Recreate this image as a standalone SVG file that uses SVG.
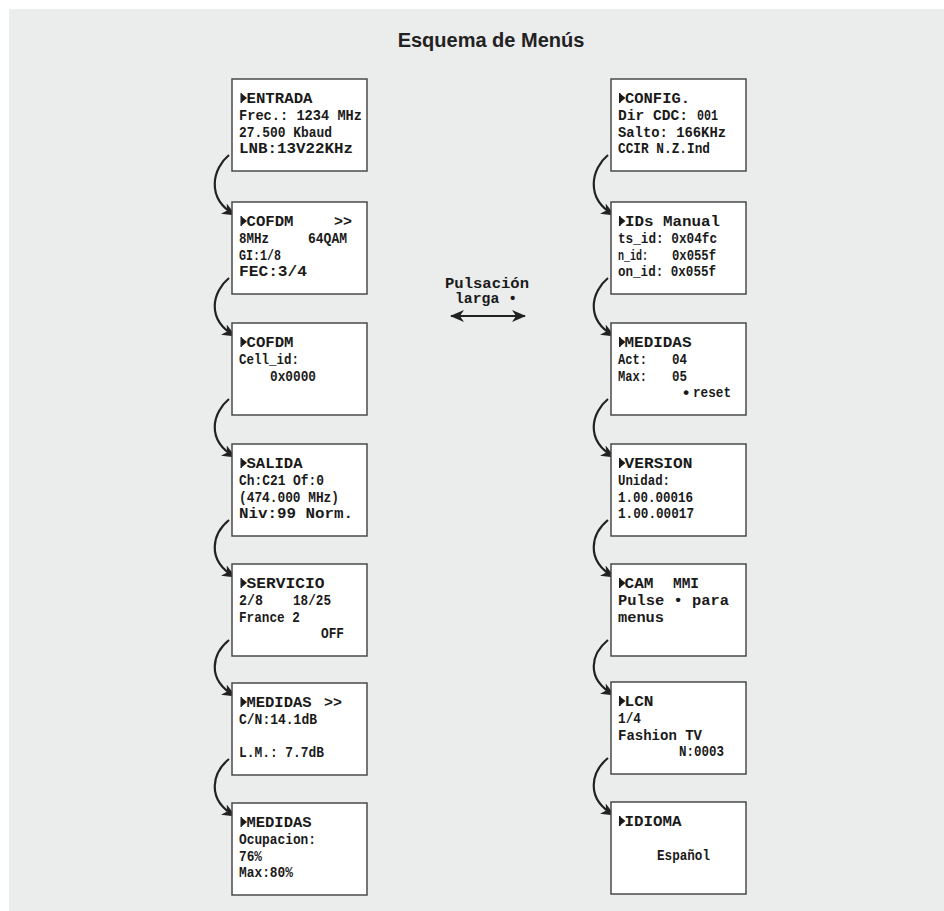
<svg xmlns="http://www.w3.org/2000/svg" xmlns:xlink="http://www.w3.org/1999/xlink" width="944" height="911" viewBox="0 0 944 911">
<style>
.bg{fill:#ebecec}
.box{fill:#ffffff;stroke:#4a4a4a;stroke-width:1.5}
.t{font-family:"Liberation Mono","DejaVu Sans Mono",monospace;font-weight:bold;font-size:14px;fill:#1a1a1a}
.title{font-family:"Liberation Sans",Arial,sans-serif;font-weight:bold;font-size:20px;fill:#222222}
.con{fill:none;stroke:#222222;stroke-width:2.2}
.tri{fill:#1a1a1a}
</style>
<defs>
<marker id="ah" viewBox="0 0 14 12" refX="13" refY="6" markerWidth="14" markerHeight="12" markerUnits="userSpaceOnUse" orient="auto-start-reverse">
<path d="M0,0 L14,6 L0,12 L4,6 Z" fill="#222222"/>
</marker>
<g id="tri"><rect x="0" y="0" width="1.4" height="10"/><polygon points="1,0.6 6.5,5 1,9.4"/></g>
</defs>
<rect class="bg" x="9" y="9" width="935" height="902"/>
<text class="title" x="491" y="47" text-anchor="middle">Esquema de Menús</text>

<g id="connectors">
<path class="con" marker-end="url(#ah)" d="M229,155 C213,168 205,198 235,215"/>
<path class="con" marker-end="url(#ah)" d="M229,278 C213,291 205,319 235,336"/>
<path class="con" marker-end="url(#ah)" d="M229,399 C213,412 205,440 235,457"/>
<path class="con" marker-end="url(#ah)" d="M229,520 C213,533 205,560 235,577"/>
<path class="con" marker-end="url(#ah)" d="M229,640 C213,653 205,679 235,696"/>
<path class="con" marker-end="url(#ah)" d="M229,759 C213,772 205,799 235,816"/>
<path class="con" marker-end="url(#ah)" d="M608,155 C592,168 584,198 614,215"/>
<path class="con" marker-end="url(#ah)" d="M608,278 C592,291 584,319 614,336"/>
<path class="con" marker-end="url(#ah)" d="M608,399 C592,412 584,440 614,457"/>
<path class="con" marker-end="url(#ah)" d="M608,520 C592,533 584,560 614,577"/>
<path class="con" marker-end="url(#ah)" d="M608,640 C592,653 584,678 614,695"/>
<path class="con" marker-end="url(#ah)" d="M608,758 C592,771 584,798 614,815"/>
<path class="con" marker-start="url(#ah)" marker-end="url(#ah)" d="M451,316 L525,316"/>
</g>

<g id="pulsacion">
<text class="t" x="487" y="288" text-anchor="middle" textLength="84" lengthAdjust="spacingAndGlyphs">Pulsación</text>
<text class="t" x="486" y="303" text-anchor="middle" textLength="62" lengthAdjust="spacingAndGlyphs">larga •</text>
</g>

<g id="entrada">
<rect class="box" x="232" y="79" width="135" height="92"/>
<use xlink:href="#tri" class="tri" x="240.5" y="93"/>
<text class="t" x="246.5" y="103" textLength="66" lengthAdjust="spacingAndGlyphs">ENTRADA</text>
<text class="t" x="239" y="120" textLength="123" lengthAdjust="spacingAndGlyphs">Frec.: 1234 MHz</text>
<text class="t" x="239" y="136.5" textLength="93" lengthAdjust="spacingAndGlyphs">27.500 Kbaud</text>
<text class="t" x="239" y="153" textLength="114" lengthAdjust="spacingAndGlyphs">LNB:13V22KHz</text>
</g>

<g id="cofdm1">
<rect class="box" x="232" y="202" width="135" height="92"/>
<use xlink:href="#tri" class="tri" x="240.5" y="216"/>
<text class="t" x="246.5" y="226" textLength="47" lengthAdjust="spacingAndGlyphs">COFDM</text>
<text class="t" x="334" y="226" textLength="18" lengthAdjust="spacingAndGlyphs">&gt;&gt;</text>
<text class="t" x="239" y="243" textLength="30" lengthAdjust="spacingAndGlyphs">8MHz</text>
<text class="t" x="308" y="243" textLength="39" lengthAdjust="spacingAndGlyphs">64QAM</text>
<text class="t" x="239" y="259.5" textLength="42" lengthAdjust="spacingAndGlyphs">GI:1/8</text>
<text class="t" x="239" y="276" textLength="68" lengthAdjust="spacingAndGlyphs">FEC:3/4</text>
</g>

<g id="cofdm2">
<rect class="box" x="232" y="323" width="135" height="92"/>
<use xlink:href="#tri" class="tri" x="240.5" y="337"/>
<text class="t" x="246.5" y="347" textLength="47" lengthAdjust="spacingAndGlyphs">COFDM</text>
<text class="t" x="239" y="364" textLength="60" lengthAdjust="spacingAndGlyphs">Cell_id:</text>
<text class="t" x="270" y="380.5" textLength="46" lengthAdjust="spacingAndGlyphs">0x0000</text>
</g>

<g id="salida">
<rect class="box" x="232" y="444" width="135" height="92"/>
<use xlink:href="#tri" class="tri" x="240.5" y="458"/>
<text class="t" x="246.5" y="468" textLength="56" lengthAdjust="spacingAndGlyphs">SALIDA</text>
<text class="t" x="239" y="485" textLength="85" lengthAdjust="spacingAndGlyphs">Ch:C21 Of:0</text>
<text class="t" x="239" y="501.5" textLength="100" lengthAdjust="spacingAndGlyphs">(474.000 MHz)</text>
<text class="t" x="239" y="518" textLength="114" lengthAdjust="spacingAndGlyphs">Niv:99 Norm.</text>
</g>

<g id="servicio">
<rect class="box" x="232" y="564" width="135" height="92"/>
<use xlink:href="#tri" class="tri" x="240.5" y="578"/>
<text class="t" x="246.5" y="588" textLength="78" lengthAdjust="spacingAndGlyphs">SERVICIO</text>
<text class="t" x="239" y="605" textLength="24" lengthAdjust="spacingAndGlyphs">2/8</text>
<text class="t" x="293" y="605" textLength="38" lengthAdjust="spacingAndGlyphs">18/25</text>
<text class="t" x="239" y="621.5" textLength="61" lengthAdjust="spacingAndGlyphs">France 2</text>
<text class="t" x="321" y="638" textLength="23" lengthAdjust="spacingAndGlyphs">OFF</text>
</g>

<g id="medidas1">
<rect class="box" x="232" y="683" width="135" height="92"/>
<use xlink:href="#tri" class="tri" x="240.5" y="697"/>
<text class="t" x="246.5" y="707" textLength="65" lengthAdjust="spacingAndGlyphs">MEDIDAS</text>
<text class="t" x="324" y="707" textLength="18" lengthAdjust="spacingAndGlyphs">&gt;&gt;</text>
<text class="t" x="239" y="724" textLength="78" lengthAdjust="spacingAndGlyphs">C/N:14.1dB</text>
<text class="t" x="239" y="757" textLength="85" lengthAdjust="spacingAndGlyphs">L.M.: 7.7dB</text>
</g>

<g id="medidas2">
<rect class="box" x="232" y="803" width="135" height="92"/>
<use xlink:href="#tri" class="tri" x="240.5" y="817"/>
<text class="t" x="246.5" y="827" textLength="65" lengthAdjust="spacingAndGlyphs">MEDIDAS</text>
<text class="t" x="239" y="844" textLength="77" lengthAdjust="spacingAndGlyphs">Ocupacion:</text>
<text class="t" x="239" y="860.5" textLength="23" lengthAdjust="spacingAndGlyphs">76%</text>
<text class="t" x="239" y="877" textLength="54" lengthAdjust="spacingAndGlyphs">Max:80%</text>
</g>

<g id="config">
<rect class="box" x="611" y="79" width="135" height="92"/>
<use xlink:href="#tri" class="tri" x="619" y="93"/>
<text class="t" x="625" y="103" textLength="65" lengthAdjust="spacingAndGlyphs">CONFIG.</text>
<text class="t" x="618" y="120" textLength="70" lengthAdjust="spacingAndGlyphs">Dir CDC:</text>
<text class="t" x="697" y="120" textLength="21" lengthAdjust="spacingAndGlyphs">001</text>
<text class="t" x="618" y="136.5" textLength="108" lengthAdjust="spacingAndGlyphs">Salto: 166KHz</text>
<text class="t" x="618" y="153" textLength="92" lengthAdjust="spacingAndGlyphs">CCIR N.Z.Ind</text>
</g>

<g id="ids">
<rect class="box" x="611" y="202" width="135" height="92"/>
<use xlink:href="#tri" class="tri" x="619" y="216"/>
<text class="t" x="625" y="226" textLength="95" lengthAdjust="spacingAndGlyphs">IDs Manual</text>
<text class="t" x="618" y="243" textLength="99" lengthAdjust="spacingAndGlyphs">ts_id: 0x04fc</text>
<text class="t" x="618" y="259.5" textLength="30" lengthAdjust="spacingAndGlyphs">n_id:</text>
<text class="t" x="672" y="259.5" textLength="44" lengthAdjust="spacingAndGlyphs">0x055f</text>
<text class="t" x="618" y="276" textLength="98" lengthAdjust="spacingAndGlyphs">on_id: 0x055f</text>
</g>

<g id="medidas3">
<rect class="box" x="611" y="323" width="135" height="92"/>
<use xlink:href="#tri" class="tri" x="619" y="337"/>
<text class="t" x="624.5" y="347" textLength="67" lengthAdjust="spacingAndGlyphs">MEDIDAS</text>
<text class="t" x="618" y="364" textLength="29" lengthAdjust="spacingAndGlyphs">Act:</text>
<text class="t" x="672" y="364" textLength="15" lengthAdjust="spacingAndGlyphs">04</text>
<text class="t" x="618" y="380.5" textLength="29" lengthAdjust="spacingAndGlyphs">Max:</text>
<text class="t" x="672" y="380.5" textLength="15" lengthAdjust="spacingAndGlyphs">05</text>
<text class="t" x="686" y="398" text-anchor="middle" style="font-size:17px">•</text>
<text class="t" x="693" y="397" textLength="38" lengthAdjust="spacingAndGlyphs">reset</text>
</g>

<g id="version">
<rect class="box" x="611" y="444" width="135" height="92"/>
<use xlink:href="#tri" class="tri" x="619" y="458"/>
<text class="t" x="624.5" y="468" textLength="68" lengthAdjust="spacingAndGlyphs">VERSION</text>
<text class="t" x="618" y="485" textLength="52" lengthAdjust="spacingAndGlyphs">Unidad:</text>
<text class="t" x="618" y="501.5" textLength="75" lengthAdjust="spacingAndGlyphs">1.00.00016</text>
<text class="t" x="618" y="518" textLength="76" lengthAdjust="spacingAndGlyphs">1.00.00017</text>
</g>

<g id="cam">
<rect class="box" x="611" y="564" width="135" height="92"/>
<use xlink:href="#tri" class="tri" x="619" y="578"/>
<text class="t" x="624.5" y="588" textLength="29" lengthAdjust="spacingAndGlyphs">CAM</text>
<text class="t" x="673" y="588" textLength="26" lengthAdjust="spacingAndGlyphs">MMI</text>
<text class="t" x="618" y="605" textLength="111" lengthAdjust="spacingAndGlyphs">Pulse • para</text>
<text class="t" x="618" y="621.5" textLength="46" lengthAdjust="spacingAndGlyphs">menus</text>
</g>

<g id="lcn">
<rect class="box" x="611" y="682" width="135" height="92"/>
<use xlink:href="#tri" class="tri" x="619" y="696"/>
<text class="t" x="624.5" y="706" textLength="29" lengthAdjust="spacingAndGlyphs">LCN</text>
<text class="t" x="618" y="723" textLength="23" lengthAdjust="spacingAndGlyphs">1/4</text>
<text class="t" x="618" y="739.5" textLength="84" lengthAdjust="spacingAndGlyphs">Fashion TV</text>
<text class="t" x="679" y="756" textLength="45" lengthAdjust="spacingAndGlyphs">N:0003</text>
</g>

<g id="idioma">
<rect class="box" x="611" y="802" width="135" height="92"/>
<use xlink:href="#tri" class="tri" x="619" y="816"/>
<text class="t" x="624.5" y="826" textLength="57" lengthAdjust="spacingAndGlyphs">IDIOMA</text>
<text class="t" x="657" y="859.5" textLength="53" lengthAdjust="spacingAndGlyphs">Español</text>
</g>
</svg>
